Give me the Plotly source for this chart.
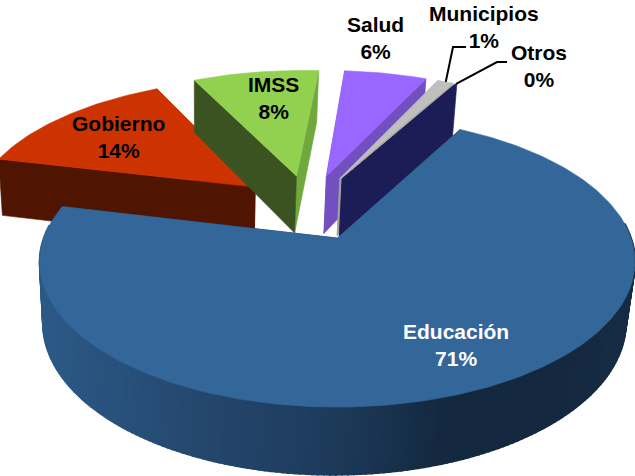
import numpy as np
import plotly.graph_objects as go

categories = ["Educación", "Gobierno", "IMSS", "Salud", "Municipios", "Otros"]
values = [70.8, 13.9, 8.5, 5.6, 1.1, 0.1]
percent_labels = ["71%", "14%", "8%", "6%", "1%", "0%"]

top_colors = ["#336699", "#CC3300", "#92D050", "#9966FF", "#BFBFBF", "#1C1C57"]
start_wall_colors = ["#1E3B5C", "#4F1500", "#3B5320", "#7350BF", "#9E9E9E", "#1C1C57"]
end_wall_colors = ["#1E3B5C", "#4F1500", "#70A83D", "#7350BF", "#9E9E9E", "#1C1C57"]
text_colors = ["white", "black", "black", "black", "black", "black"]
label_x = [456, 118, 273, 375, 484, 539]
label_y = [345, 137, 98, 38, 27, 66]

# projection of the exploded 3-D pie
X0, Y0, A, B, H, K, M = 306.5, 207.0, 283.0, 131.3, 59.8, 0.158, 0.02
SHEAR, SHEAR_Y = -0.037, 265.0
EXPLODE = 0.25
START_DEG = 28.5

grad_x = [40, 200, 330, 450, 540, 635]
grad_rgb = np.array([[44, 90, 136], [37, 72, 110], [30, 59, 92], [20, 40, 63], [20, 40, 63], [23, 45, 70]])


def project(u, v, h=0.0):
    w = 1 + K * v + M * h
    sy = Y0 + (-B * v + H * h) / w
    sx = X0 + A * u / w + SHEAR * (sy - SHEAR_Y)
    return sx, sy


def side_color(x):
    c = [int(np.interp(x, grad_x, grad_rgb[:, i])) for i in range(3)]
    return f"rgb({c[0]},{c[1]},{c[2]})"


fig = go.Figure()


def poly(xs, ys, color, width=0.6):
    xs = list(xs) + [xs[0]]
    ys = list(ys) + [ys[0]]
    fig.add_trace(go.Scatter(x=xs, y=ys, mode="lines", fill="toself", fillcolor=color,
                             line=dict(color=color, width=width), hoverinfo="skip", showlegend=False))


total = sum(values)
spans = [v / total * 360 for v in values]
starts = list(START_DEG + np.cumsum([0] + spans[:-1]))

# far slices first, Educación on top
order = [1, 2, 3, 4, 5, 0]
rim_points = {}
for i in order:
    a1, a2 = np.radians(starts[i]), np.radians(starts[i] + spans[i])
    mid = (a1 + a2) / 2
    ou, ov = EXPLODE * np.sin(mid), EXPLODE * np.cos(mid)
    n = max(3, int(spans[i] * 1.0))
    phis = np.linspace(a1, a2, n)
    ru, rv = ou + np.sin(phis), ov + np.cos(phis)

    faces = []
    for ang, col in ((a1, start_wall_colors[i]), (a2, end_wall_colors[i])):
        eu, ev = ou + np.sin(ang), ov + np.cos(ang)
        faces.append(((ov + ev) / 2, [(ou, ov, 0), (eu, ev, 0), (eu, ev, 1), (ou, ov, 1)], col))
    faces.sort(key=lambda f: -f[0])
    for _, pts, col in faces:
        p = [project(*q) for q in pts]
        poly([q[0] for q in p], [q[1] for q in p], col)

    if i == 0:
        for j in range(n - 1):
            if np.cos((phis[j] + phis[j + 1]) / 2) < 0.1:
                xt, yt = project(ru[j:j + 2], rv[j:j + 2], 0.0)
                xb, yb = project(ru[j:j + 2], rv[j:j + 2], 1.0)
                poly([xt[0], xt[1], xb[1], xb[0]], [yt[0], yt[1], yb[1], yb[0]],
                     side_color((xt[0] + xt[1]) / 2), width=2)

    tx, ty = project(np.r_[ou, ru], np.r_[ov, rv])
    poly(tx, ty, top_colors[i])
    rim_points[categories[i]] = (tx[len(tx) // 2], ty[len(ty) // 2])

# leader lines
mx, my = rim_points["Municipios"]
ox, oy = rim_points["Otros"]
for lx, ly in (([mx, 453, 466], [my, 47, 47]), ([ox, 497, 507], [oy, 62, 62])):
    fig.add_trace(go.Scatter(x=lx, y=ly, mode="lines", line=dict(color="black", width=2),
                             hoverinfo="skip", showlegend=False))

for c, p, x, y, col in zip(categories, percent_labels, label_x, label_y, text_colors):
    fig.add_annotation(x=x, y=y, xref="x", yref="y", text=f"{c}<br>{p}", showarrow=False,
                       font=dict(family="Liberation Sans, Arial, sans-serif", size=21, color=col, weight="bold"))

fig.update_layout(width=635, height=476, margin=dict(l=0, r=0, t=0, b=0),
                  paper_bgcolor="white", plot_bgcolor="white", showlegend=False,
                  xaxis=dict(range=[0, 635], visible=False, fixedrange=True),
                  yaxis=dict(range=[476, 0], visible=False, fixedrange=True))
fig.write_html("out.html", config={"displayModeBar": False},
               post_script="document.body.style.margin='0';")
